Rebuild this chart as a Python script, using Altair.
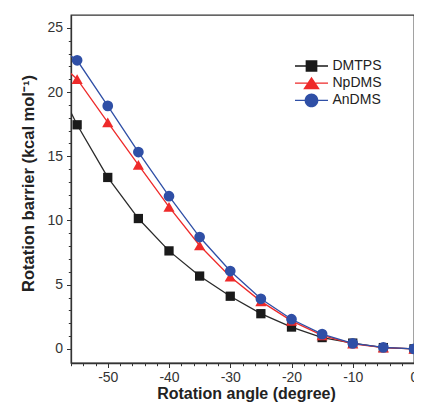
import altair as alt
import pandas as pd

# ---- data ----
series = ["DMTPS", "NpDMS", "AnDMS"]
angles = [-55, -50, -45, -40, -35, -30, -25, -20, -15, -10, -5, 0]
dmtps = [17.45, 13.35, 10.15, 7.63, 5.67, 4.10, 2.74, 1.70, 0.88, 0.45, 0.10, 0.0]
npdms = [21.00, 17.64, 14.33, 11.06, 8.05, 5.62, 3.70, 2.18, 1.05, 0.40, 0.10, 0.0]
andms = [22.47, 18.92, 15.33, 11.89, 8.71, 6.06, 3.90, 2.31, 1.15, 0.43, 0.12, 0.0]
# where each line meets the left edge of the frame
edge_angle = -56
edge_values = [18.4, 21.44, 22.8]

x_ticks = list(range(-56, 1, 2))
y_ticks = list(range(0, 26))

colors = ["#1a1a1a", "#ee2a2a", "#2f4fa6"]
line_colors = ["#2a2a2a", "#ee2a2a", "#2f4fa6"]
shapes = ["square", "triangle-up", "circle"]
sizes = [86, 125, 115]
# legend glyphs: a short line with the marker on it (unit = 5 px at symbolSize 100)
legend_paths = [
    "M-3.3,-0.13H3.3V0.13H-3.3Z M-1.17,-1.17H1.17V1.17H-1.17Z",
    "M-3.3,-0.13H3.3V0.13H-3.3Z M0,-1.3L1.66,1.22H-1.66Z",
    "M-3.3,-0.13H3.3V0.13H-3.3Z M1.37,0A1.37,1.37 0 1,1 -1.37,0A1.37,1.37 0 1,1 1.37,0Z",
]

values = [dmtps, npdms, andms]
FONT = "Liberation Sans"
AX = "#333333"

x_scale = alt.Scale(domain=[-56, 0], nice=False, zero=False)
y_scale = alt.Scale(domain=[-1.1, 26], nice=False, zero=False)

x_axis = alt.Axis(
    values=x_ticks,
    labelExpr="datum.value % 10 === 0 ? '' + datum.value : ''",
    tickSize={"condition": {"test": "datum.value % 10 === 0", "value": 4.5}, "value": 2.7},
    labelPadding=3, labelFlush=False, labelOverlap=False,
    labelFontSize=14, labelFont=FONT, labelColor=AX,
    tickColor=AX, domainColor=AX, tickWidth=1, domainWidth=1.3,
    grid=False,
    title="Rotation angle (degree)", titleFont=FONT, titleFontSize=16,
    titleFontWeight="bold", titleColor="#222222",
    titleBaseline="alphabetic", titleY=35, titleX=175,
)
y_axis = alt.Axis(
    values=y_ticks,
    labelExpr="datum.value % 5 === 0 ? '' + datum.value : ''",
    tickSize={"condition": {"test": "datum.value % 5 === 0", "value": 4.5}, "value": 2.7},
    labelPadding=4, labelOverlap=False,
    labelFontSize=14, labelFont=FONT, labelColor=AX,
    tickColor=AX, domainColor=AX, tickWidth=1, domainWidth=1.3,
    grid=False,
    title="Rotation barrier (kcal mol\u207b\u00b9)", titleFont=FONT, titleFontSize=16.5,
    titleFontWeight="bold", titleColor="#222222",
    titleBaseline="alphabetic", titleX=-37.7, titleY=168, titleAngle=270,
)

enc_x = alt.X("angle:Q", scale=x_scale, axis=x_axis)
enc_y = alt.Y("barrier:Q", scale=y_scale, axis=y_axis)

layers = []
for i, name in enumerate(series):
    pts = pd.DataFrame({"angle": angles, "barrier": values[i]})
    ln = pd.DataFrame({"angle": [edge_angle] + angles,
                       "barrier": [edge_values[i]] + values[i]})
    layers.append(
        alt.Chart(ln).mark_line(color=line_colors[i], strokeWidth=1.3, clip=True)
        .encode(x=enc_x, y=enc_y, order="angle:Q")
    )
    layers.append(
        alt.Chart(pts).mark_point(shape=shapes[i], size=sizes[i], filled=True,
                                  fill=colors[i], opacity=1, strokeWidth=0)
        .encode(x=enc_x, y=enc_y)
    )

legend_df = pd.DataFrame({"series": series})
legend_layer = (
    alt.Chart(legend_df)
    .mark_point(filled=True, opacity=1, strokeWidth=0)
    .encode(
        color=alt.Color("series:N", scale=alt.Scale(domain=series, range=colors),
                        legend=alt.Legend(title=None)),
        shape=alt.Shape("series:N", scale=alt.Scale(domain=series, range=legend_paths),
                        legend=alt.Legend(title=None)),
    )
    .transform_filter("false")
)
layers.append(legend_layer)

chart = (
    alt.layer(*layers)
    .properties(width=343, height=348, background="white",
                autosize=alt.AutoSizeParams(type="none"),
                padding={"left": 63, "top": 7, "right": 0, "bottom": 40})
    .configure_view(stroke=AX, strokeWidth=1.3)
    .configure_legend(
        orient="none", legendX=233.5, legendY=44,
        symbolSize=100, symbolStrokeWidth=0, symbolOpacity=1,
        labelFont=FONT, labelFontSize=14, labelColor="#222222",
        labelOffset=14, rowPadding=3.2, padding=0,
    )
)

chart.save("out.html", embed_options={"renderer": "svg", "actions": False})
